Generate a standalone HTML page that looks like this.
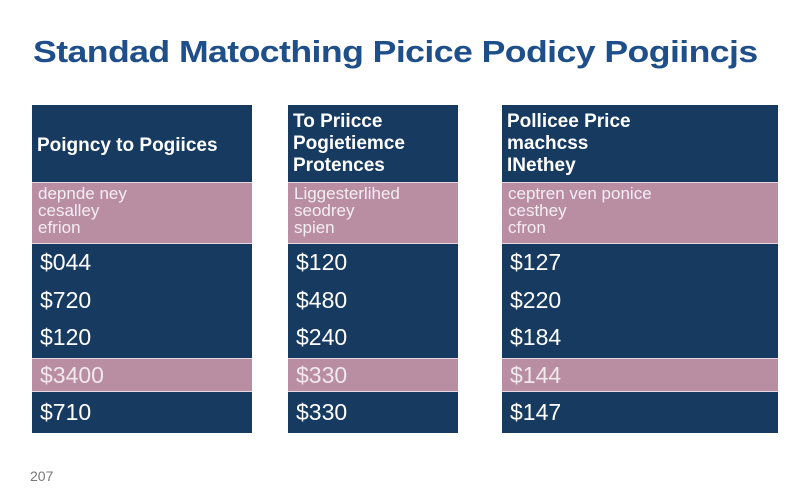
<!DOCTYPE html>
<html><head><meta charset="utf-8"><style>
body{margin:0;width:800px;height:496px;background:#fff;position:relative;overflow:hidden;font-family:"Liberation Sans",sans-serif}
.t{position:absolute;left:33px;top:34px;font-size:31px;font-weight:bold;color:#1f4f8a;letter-spacing:-0.5px;transform:scaleX(1.15);transform-origin:left top;white-space:nowrap}
.p{position:absolute;top:105px;height:328px;background:#163a60}
.hd{position:absolute;left:0;right:0;top:0;height:77px;color:#fff;font-size:19px;font-weight:bold;line-height:22px;padding:6px 5px;box-sizing:border-box}
.pk{position:absolute;left:0;right:0;background:#b98ea3;border-top:1px solid #e8d8e0;border-bottom:1px solid #e8d8e0}
.sub{color:#fff;font-size:17px;line-height:17px;padding:2px 6px;opacity:.85}
.v{position:absolute;left:8px;color:#fff;font-size:23px;line-height:24px}
.f{position:absolute;left:30px;top:468px;font-size:14px;color:#777}
</style></head><body>
<div class="t">Standad Matocthing Picice Podicy Pogiincjs</div>

<div class="p" style="left:32px;width:220px">
<div class="hd" style="padding-top:30px">Poigncy to Pogiices</div>
<div class="pk" style="top:77px;height:60px"><div class="sub">depnde ney<br>cesalley<br>efrion</div></div>
<div class="pk" style="top:253px;height:32px"></div>
<div class="v" style="top:145px">$044</div>
<div class="v" style="top:183px">$720</div>
<div class="v" style="top:220px">$120</div>
<div class="v" style="top:258px;opacity:.8">$3400</div>
<div class="v" style="top:295px">$710</div>
</div>

<div class="p" style="left:288px;width:170px">
<div class="hd">To Priicce<br>Pogietiemce<br>Protences</div>
<div class="pk" style="top:77px;height:60px"><div class="sub">Liggesterlihed<br>seodrey<br>spien</div></div>
<div class="pk" style="top:253px;height:32px"></div>
<div class="v" style="top:145px">$120</div>
<div class="v" style="top:183px">$480</div>
<div class="v" style="top:220px">$240</div>
<div class="v" style="top:258px;opacity:.8">$330</div>
<div class="v" style="top:295px">$330</div>
</div>

<div class="p" style="left:502px;width:276px">
<div class="hd">Pollicee Price<br>machcss<br>INethey</div>
<div class="pk" style="top:77px;height:60px"><div class="sub">ceptren ven ponice<br>cesthey<br>cfron</div></div>
<div class="pk" style="top:253px;height:32px"></div>
<div class="v" style="top:145px">$127</div>
<div class="v" style="top:183px">$220</div>
<div class="v" style="top:220px">$184</div>
<div class="v" style="top:258px;opacity:.8">$144</div>
<div class="v" style="top:295px">$147</div>
</div>

<div class="f">207</div>
</body></html>
